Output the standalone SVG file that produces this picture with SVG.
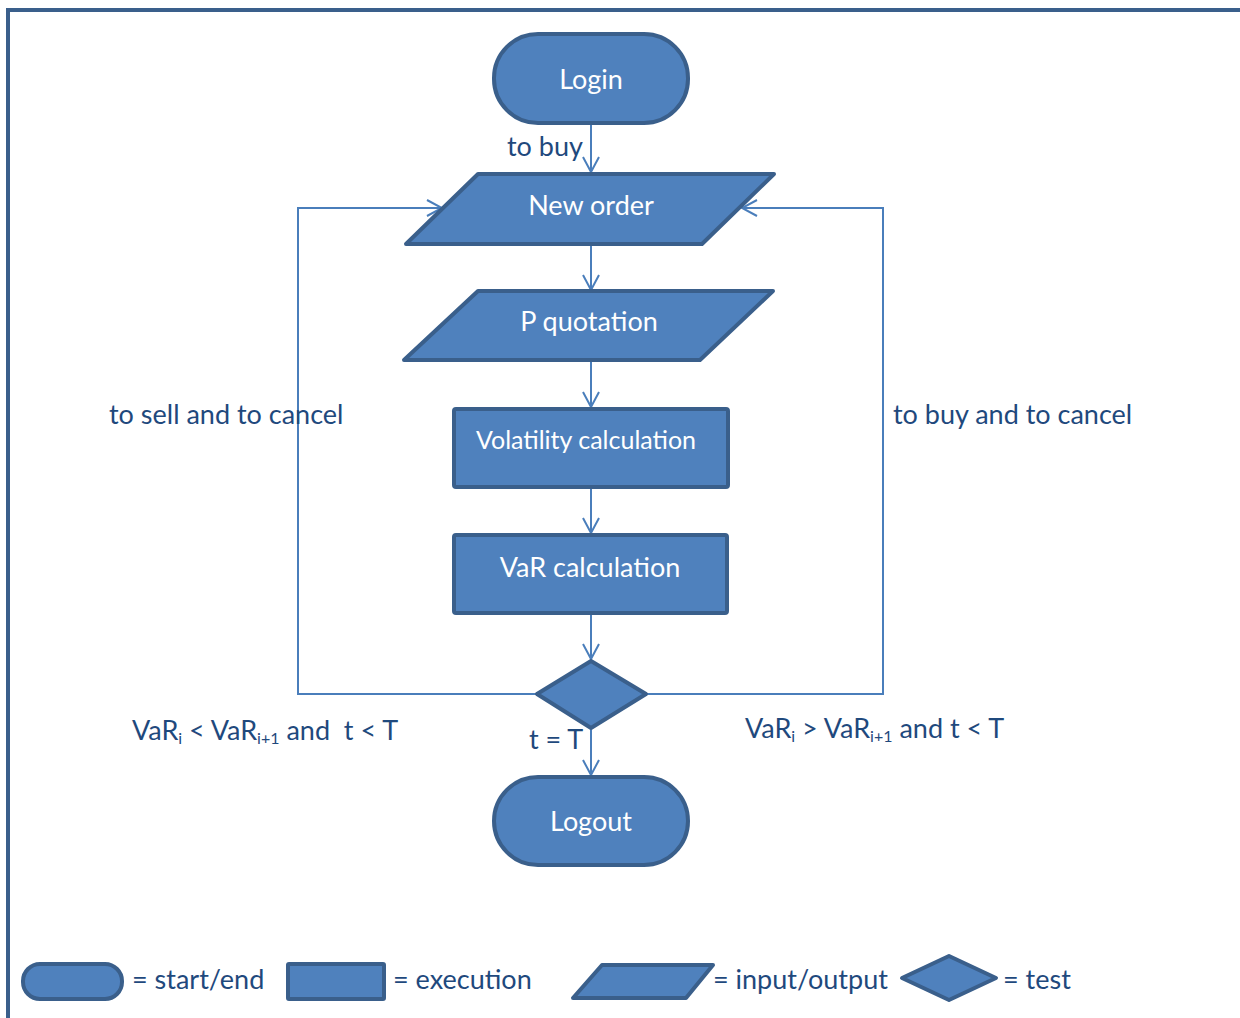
<svg xmlns="http://www.w3.org/2000/svg" width="1240" height="1018" viewBox="0 0 1240 1018">
<style>
.sh{fill:#4f81bd;stroke:#3a5f8b;stroke-width:4;stroke-linejoin:round}
.wt{font-family:Lato,"Open Sans",sans-serif;font-size:27px;fill:#ffffff;text-anchor:middle}
.lb{font-family:Lato,"Open Sans",sans-serif;font-size:27px;fill:#1f497d}
.sub{font-size:16px}
.cn{fill:none;stroke:#4a7ebb;stroke-width:2}
</style>
<defs>
<marker id="ah" viewBox="0 0 20 20" refX="18" refY="10" markerWidth="20" markerHeight="20" markerUnits="userSpaceOnUse" orient="auto">
<path d="M3,2 L18,10 L3,18" fill="none" stroke="#4a7ebb" stroke-width="2"/>
</marker>
</defs>
<rect width="1240" height="1018" fill="#ffffff"/>
<path d="M8,1018 L8,10 L1240,10" fill="none" stroke="#3a5f8b" stroke-width="4"/>

<g id="connectors">
<line class="cn" x1="591" y1="125" x2="591" y2="172" marker-end="url(#ah)"/>
<line class="cn" x1="591" y1="246" x2="591" y2="290" marker-end="url(#ah)"/>
<line class="cn" x1="591" y1="362" x2="591" y2="407" marker-end="url(#ah)"/>
<line class="cn" x1="591" y1="489" x2="591" y2="533" marker-end="url(#ah)"/>
<line class="cn" x1="591" y1="615" x2="591" y2="659" marker-end="url(#ah)"/>
<line class="cn" x1="591" y1="730" x2="591" y2="775" marker-end="url(#ah)"/>
<polyline class="cn" points="537,694 298,694 298,208 442,208" marker-end="url(#ah)"/>
<polyline class="cn" points="646,694 883,694 883,208 742,208" marker-end="url(#ah)"/>
</g>

<g id="login">
<rect class="sh" x="494" y="34" width="194" height="89" rx="44" ry="44"/>
<text class="wt" x="591" y="89">Login</text>
</g>
<g id="new-order">
<polygon class="sh" points="478,174 774,174 702,244 406,244"/>
<text class="wt" x="591" y="215">New order</text>
</g>
<g id="p-quotation">
<polygon class="sh" points="478,291 773,291 700,360 404,360"/>
<text class="wt" x="589" y="331">P quotation</text>
</g>
<g id="volatility">
<rect class="sh" x="454" y="409" width="274" height="78" rx="2"/>
<text class="wt" x="586" y="449" style="font-size:25px">Volatility calculation</text>
</g>
<g id="var-calc">
<rect class="sh" x="454" y="535" width="273" height="78" rx="2"/>
<text class="wt" x="590" y="577">VaR calculation</text>
</g>
<g id="test">
<polygon class="sh" points="591,661 646,694 591,728 537,694"/>
</g>
<g id="logout">
<rect class="sh" x="494" y="777" width="194" height="88" rx="44" ry="44"/>
<text class="wt" x="591" y="831">Logout</text>
</g>

<g id="labels">
<text class="lb" x="507" y="156">to buy</text>
<text class="lb" x="109" y="424">to sell and to cancel</text>
<text class="lb" x="893" y="424">to buy and to cancel</text>
<text class="lb" x="132" y="740">VaR<tspan class="sub" dy="4">i</tspan><tspan dy="-4"> &lt; VaR</tspan><tspan class="sub" dy="4">i+1</tspan><tspan dy="-4"> and &#160;t &lt; T</tspan></text>
<text class="lb" x="529" y="749">t = T</text>
<text class="lb" x="745" y="738">VaR<tspan class="sub" dy="4">i</tspan><tspan dy="-4"> &gt; VaR</tspan><tspan class="sub" dy="4">i+1</tspan><tspan dy="-4"> and t &lt; T</tspan></text>
</g>

<g id="legend">
<rect class="sh" x="23" y="964" width="99" height="35" rx="17" ry="17"/>
<text class="lb" x="132" y="989">= start/end</text>
<rect class="sh" x="288" y="964" width="96" height="35" rx="1"/>
<text class="lb" x="393" y="989">= execution</text>
<polygon class="sh" points="602,965 713,965 686,998 573,998"/>
<text class="lb" x="713" y="989">= input/output</text>
<polygon class="sh" points="949,956 996,978 949,1000 902,978"/>
<text class="lb" x="1003" y="989">= test</text>
</g>
</svg>
